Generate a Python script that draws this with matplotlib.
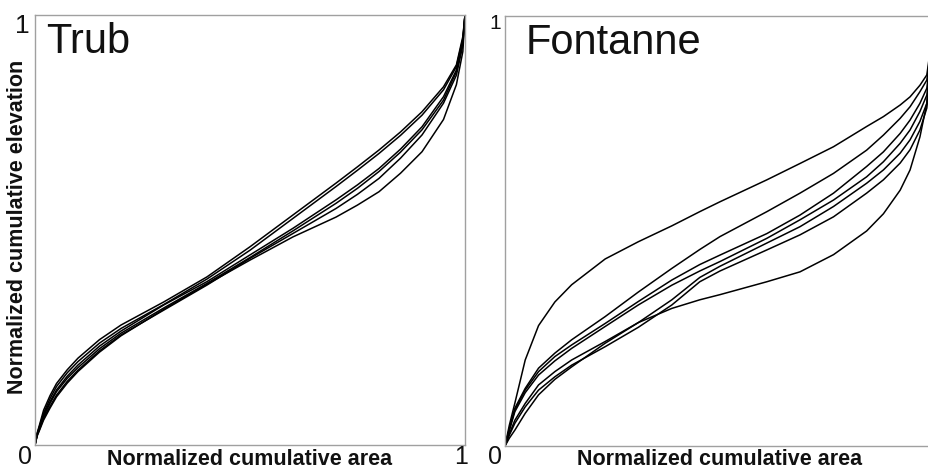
import matplotlib
matplotlib.use("Agg")
import matplotlib.pyplot as plt

plt.rcParams['font.family'] = ['Liberation Sans', 'DejaVu Sans']

# --- Trub: normalized cumulative area (x) vs elevation (y), 6 sub-basins
trub_area = [0, 0.005, 0.01, 0.02, 0.035, 0.05, 0.075, 0.1, 0.15, 0.2, 0.3,
             0.4, 0.5, 0.6, 0.7, 0.75, 0.8, 0.85, 0.9, 0.95, 0.98, 0.995, 1.0]
trub_1 = [0, 0.028, 0.045, 0.081, 0.115, 0.143, 0.175, 0.202, 0.245, 0.279, 0.333,
          0.391, 0.461, 0.535, 0.609, 0.647, 0.686, 0.728, 0.775, 0.833, 0.884, 0.95, 1]
trub_2 = [0, 0.026, 0.042, 0.074, 0.108, 0.136, 0.168, 0.194, 0.237, 0.271, 0.327,
          0.386, 0.453, 0.527, 0.601, 0.639, 0.678, 0.720, 0.767, 0.826, 0.880, 0.945, 1]
trub_3 = [0, 0.025, 0.040, 0.070, 0.101, 0.128, 0.160, 0.186, 0.230, 0.265, 0.326,
          0.380, 0.442, 0.504, 0.570, 0.605, 0.643, 0.688, 0.740, 0.810, 0.872, 0.940, 1]
trub_4 = [0, 0.024, 0.038, 0.066, 0.097, 0.124, 0.155, 0.180, 0.224, 0.260, 0.319,
          0.376, 0.436, 0.498, 0.562, 0.597, 0.636, 0.681, 0.733, 0.802, 0.868, 0.935, 1]
trub_5 = [0, 0.022, 0.035, 0.062, 0.090, 0.116, 0.148, 0.174, 0.219, 0.256, 0.314,
          0.372, 0.434, 0.492, 0.550, 0.583, 0.620, 0.667, 0.721, 0.795, 0.860, 0.930, 1]
trub_6 = [0, 0.021, 0.033, 0.058, 0.086, 0.112, 0.144, 0.171, 0.216, 0.254, 0.316,
          0.374, 0.430, 0.484, 0.530, 0.558, 0.589, 0.632, 0.682, 0.757, 0.838, 0.915, 1]
trub_curves = [trub_1, trub_2, trub_3, trub_4, trub_5, trub_6]

# --- Fontanne: 7 sub-basins
font_area = [0, 0.01, 0.023, 0.047, 0.078, 0.116, 0.155, 0.233, 0.31, 0.388, 0.453,
             0.5, 0.609, 0.686, 0.764, 0.841, 0.88, 0.919, 0.942, 0.965, 0.981, 1.0]
font_1 = [0, 0.048, 0.100, 0.200, 0.280, 0.335, 0.375, 0.435, 0.475, 0.512, 0.545,
          0.568, 0.619, 0.657, 0.696, 0.743, 0.766, 0.793, 0.812, 0.839, 0.863, 1]
font_2 = [0, 0.040, 0.088, 0.134, 0.181, 0.216, 0.247, 0.301, 0.358, 0.413, 0.457,
          0.487, 0.545, 0.588, 0.634, 0.688, 0.723, 0.762, 0.789, 0.824, 0.851, 1]
font_3 = [0, 0.038, 0.084, 0.130, 0.173, 0.208, 0.235, 0.285, 0.336, 0.386, 0.422,
          0.444, 0.494, 0.537, 0.588, 0.650, 0.684, 0.727, 0.758, 0.797, 0.832, 1]
font_4 = [0, 0.036, 0.080, 0.124, 0.165, 0.198, 0.227, 0.278, 0.328, 0.374, 0.407,
          0.429, 0.483, 0.526, 0.572, 0.626, 0.661, 0.704, 0.735, 0.778, 0.816, 1]
font_5 = [0, 0.028, 0.060, 0.099, 0.142, 0.173, 0.200, 0.243, 0.287, 0.340, 0.392,
          0.418, 0.472, 0.510, 0.557, 0.611, 0.642, 0.681, 0.712, 0.755, 0.797, 1]
font_6 = [0, 0.025, 0.053, 0.091, 0.130, 0.161, 0.188, 0.231, 0.276, 0.328, 0.382,
          0.407, 0.456, 0.491, 0.533, 0.588, 0.619, 0.658, 0.689, 0.735, 0.786, 1]
font_7 = [0, 0.018, 0.037, 0.076, 0.119, 0.155, 0.184, 0.239, 0.287, 0.320, 0.340,
          0.352, 0.382, 0.405, 0.445, 0.500, 0.540, 0.595, 0.642, 0.719, 0.797, 1]
font_curves = [font_1, font_2, font_3, font_4, font_5, font_6, font_7]

W, H = 929, 470
fig = plt.figure(figsize=(W / 100, H / 100), dpi=100)

# axes in pixel boxes: left, bottom, width, height
ax1 = fig.add_axes([35 / W, (H - 445) / H, 430 / W, 430 / H])
ax2 = fig.add_axes([505 / W, (H - 446) / H, 430 / W, 430 / H])  # cut off on the right

# corner labels and axis titles, placed in figure pixels
def px_text(x, y, s, size, **kw):
    fig.text(x / W, 1 - y / H, s, fontsize=size, color='#111111', **kw)

for ax, xs, curves, name, name_x, mid in [(ax1, trub_area, trub_curves, "Trub", 0.026, 250),
                                           (ax2, font_area, font_curves, "Fontanne", 0.047, 720)]:
    for ys in curves:
        ax.plot(xs, ys, color='black', lw=1.1)
    ax.set_xlim(0, 1)
    ax.set_ylim(0, 1)
    ax.set_xticks([])
    ax.set_yticks([])
    for s in ax.spines.values():
        s.set_color('#a0a0a0')
        s.set_linewidth(1.0)
    ax.text(name_x, 0.912, name, transform=ax.transAxes, fontsize=30,
            va='baseline', ha='left', color='#111111')
    px_text(mid, 465, "Normalized cumulative area", 15.5, fontweight='bold',
            ha='center', va='baseline')

px_text(25, 464, "0", 18, ha='center', va='baseline')
px_text(461, 464, "1", 18, ha='center', va='baseline')
px_text(22, 14, "1", 19, ha='center', va='top')
px_text(495, 464, "0", 18, ha='center', va='baseline')
px_text(495, 14, "1", 15, ha='center', va='top')

fig.text(18 / W, 1 - 227 / H, "Normalized cumulative elevation", rotation=90,
         fontsize=15.5, fontweight='bold', ha='center', va='center', color='#111111')

fig.savefig("out.png", dpi=100)
